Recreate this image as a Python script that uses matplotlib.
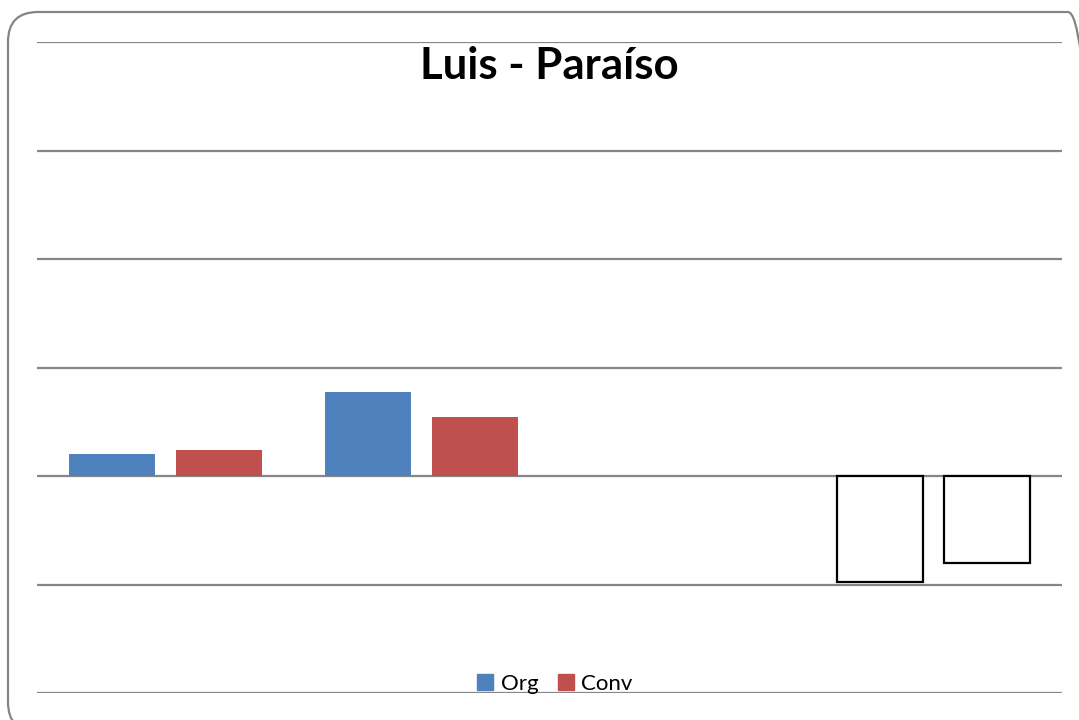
import matplotlib.pyplot as plt
import numpy as np
from matplotlib.patches import FancyBboxPatch
from matplotlib.transforms import IdentityTransform

plt.rcParams['font.family'] = ['Lato', 'DejaVu Sans']

# Data
categories = ["A", "B", "C", "D"]
org_values = [0.20, 0.77, 0.0, -0.98]
conv_values = [0.24, 0.54, 0.0, -0.80]
series_names = ["Org", "Conv"]

W, H = 1079, 720
fig = plt.figure(figsize=(W / 100, H / 100), dpi=100)

# Rounded outer frame, drawn in pixels (origin bottom-left)
frame = FancyBboxPatch((8, -12), 1098 - 8, H - 12 + 12,
                       boxstyle="round,pad=0,rounding_size=30",
                       transform=IdentityTransform(), facecolor='none',
                       edgecolor='#858585', linewidth=1.6, zorder=-1)
fig.patches.append(frame)

ax = fig.add_axes([37 / W, 27 / H, (1062 - 37) / W, (693 - 42) / H])
ax.set_facecolor('none')

x = np.arange(len(categories))
width = 0.336
off = 0.209

org_colors = ['#4f81bd' if v >= 0 else 'white' for v in org_values]
conv_colors = ['#c0504d' if v >= 0 else 'white' for v in conv_values]
org_edges = ['none' if v >= 0 else 'black' for v in org_values]
conv_edges = ['none' if v >= 0 else 'black' for v in conv_values]

ax.bar(x - off, org_values, width, color=org_colors, edgecolor=org_edges,
       linewidth=1.6, zorder=3)
ax.bar(x + off, conv_values, width, color=conv_colors, edgecolor=conv_edges,
       linewidth=1.6, zorder=3)

ax.set_xlim(-0.5, 3.5)
ax.set_ylim(-2, 4)
ax.set_yticks(np.arange(-2, 5, 1))
ax.grid(axis='y', color='#868686', linewidth=1.6, zorder=1)
ax.tick_params(left=False, bottom=False, labelleft=False, labelbottom=False)
for s in ax.spines.values():
    s.set_visible(False)

fig.text(549 / W, 1 - 66 / H, "Luis - Paraíso", ha='center', va='center',
         fontsize=31.5, fontweight='bold')

handles = [plt.Rectangle((0, 0), 1, 1, color='#4f81bd'),
           plt.Rectangle((0, 0), 1, 1, color='#c0504d')]
fig.legend(handles, series_names, loc='center', bbox_to_anchor=(555 / W, 1 - 684 / H),
           ncol=2, frameon=False, fontsize=16, handlelength=0.7, handleheight=0.7,
           handletextpad=0.35, columnspacing=0.9, borderaxespad=0)

fig.savefig('out.png', dpi=100)
